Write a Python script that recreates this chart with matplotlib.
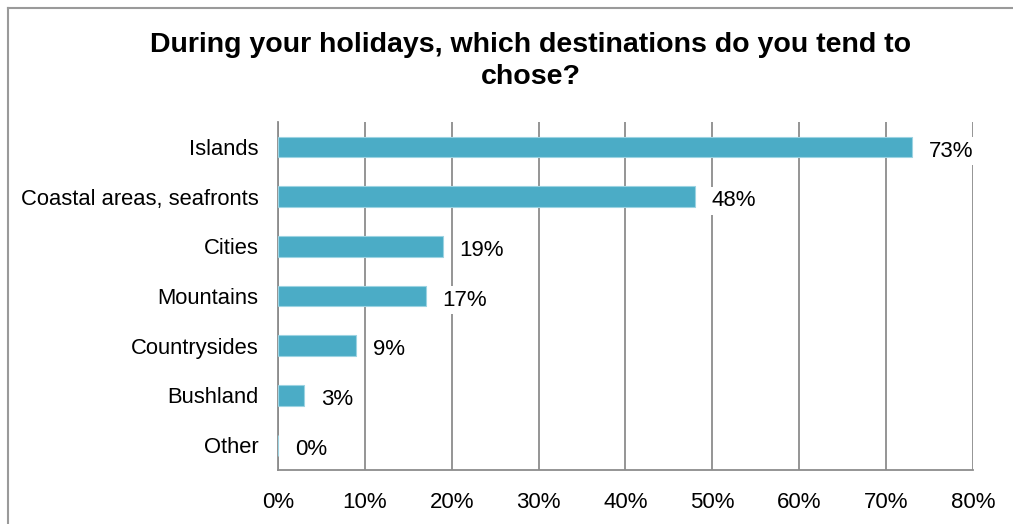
import matplotlib.pyplot as plt
from matplotlib.lines import Line2D

plt.rcParams['font.family'] = ['Liberation Sans', 'DejaVu Sans']

destinations = ["Islands", "Coastal areas, seafronts", "Cities", "Mountains",
                "Countrysides", "Bushland", "Other"]
shares = [73, 48, 19, 17, 9, 3, 0]
ticks = [0, 10, 20, 30, 40, 50, 60, 70, 80]

bar_color = "#4BACC6"
grid_color = "#8C8C8C"

fig = plt.figure(figsize=(10.13, 5.24), dpi=100)
ax = fig.add_axes([0.2744, 0.103, 0.686, 0.664])

ypos = range(len(destinations))
ax.barh(ypos, shares, height=0.42, color=bar_color, edgecolor="#9CD3E2",
        linewidth=0.8, zorder=3)

for y, v in zip(ypos, shares):
    ax.annotate(f"{v}%", (v, y), xytext=(12, -3), textcoords="offset points",
                va="center", ha="left", fontsize=16, zorder=4,
                bbox=dict(boxstyle="square,pad=0.15", fc="white", ec="none"))

ax.set_xlim(0, 80)
ax.set_ylim(len(destinations) - 0.5, -0.5)
ax.set_xticks(ticks)
ax.set_xticklabels([f"{t}%" for t in ticks], fontsize=16)
ax.set_yticks(list(ypos))
ax.set_yticklabels(destinations, fontsize=15.8)
ax.tick_params(axis="both", length=0)
ax.tick_params(axis="x", pad=16)
ax.tick_params(axis="y", pad=14)

ax.grid(axis="x", color=grid_color, linewidth=1.3, zorder=1)
for side in ["top", "right"]:
    ax.spines[side].set_visible(False)
for side in ["left", "bottom"]:
    ax.spines[side].set_color(grid_color)
    ax.spines[side].set_linewidth(1.3)
    ax.spines[side].set_zorder(2)

fig.text(0.524, 0.883, "During your holidays, which destinations do you tend to\nchose?",
         ha="center", va="center", fontsize=20.5, fontweight="bold", linespacing=1.3)

# outer chart frame, open on the right and bottom
fig.add_artist(Line2D([0.008, 1.0], [0.985, 0.985], color="#9A9A9A", lw=1.5))
fig.add_artist(Line2D([0.008, 0.008], [0.0, 0.985], color="#9A9A9A", lw=1.5))

fig.savefig("out.png", dpi=100, facecolor="white")
